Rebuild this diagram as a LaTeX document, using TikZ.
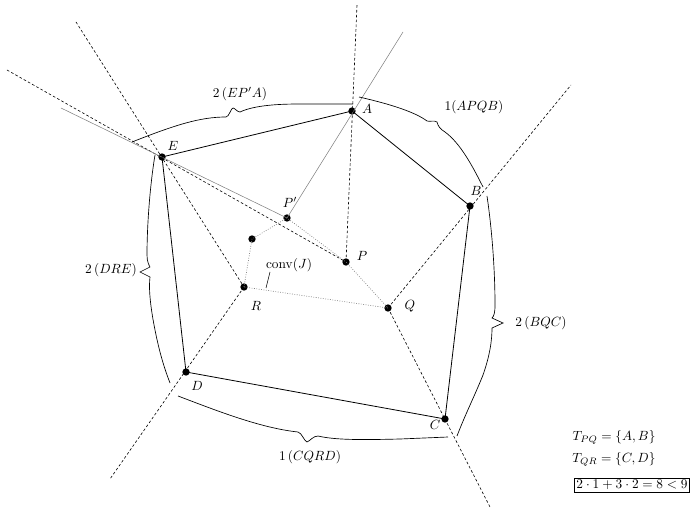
\documentclass[tikz,border=0pt]{standalone}
\begin{document}
\begin{tikzpicture}[x=0.75pt,y=-0.75pt,
  pt/.style={circle,fill=black,inner sep=0pt,minimum size=5.5pt},
  edge/.style={black,line width=0.6pt},
  brace/.style={black,line width=0.5pt},
  dl/.style={black,line width=0.45pt,dash pattern=on 2pt off 1.6pt},
  gl/.style={gray,line width=0.4pt},
  cl/.style={gray,line width=0.5pt,dash pattern=on 0.6pt off 1.2pt},
  lab/.style={inner sep=1pt}]
\useasboundingbox (0,0) rectangle (692,513);
% points
\node[pt] (A) at (352,111) {};
\node[pt] (B) at (470,206) {};
\node[pt] (C) at (445,419) {};
\node[pt] (D) at (186,372) {};
\node[pt] (E) at (162,157) {};
\node[pt] (Pp) at (287,218) {};
\node[pt] (P) at (346,262) {};
\node[pt] (Q) at (388,308) {};
\node[pt] (R) at (244,287) {};
\node[pt] (J) at (252,239) {};
% free ends
\coordinate (Atop) at (357,5);
\coordinate (Eup) at (76,22);
\coordinate (Eleft) at (7,70);
\coordinate (Dlow) at (110,479);
\coordinate (Btop) at (571,85);
\coordinate (Clow) at (490,507);
\coordinate (Gleft) at (61,108);
\coordinate (Gtop) at (403,32);
% dashed lines
\draw[dl] (P.center) -- (Atop);
\draw[dl] (Eleft) -- (P.center);
\draw[dl] (Eup) -- (R.center);
\draw[dl] (R.center) -- (Dlow);
\draw[dl] (Q.center) -- (Btop);
\draw[dl] (Q.center) -- (Clow);
% gray solid lines
\draw[gl] (Gleft) -- (Pp.center);
\draw[gl] (Pp.center) -- (Gtop);
% conv(J)
\draw[cl] (R.center) -- (J.center) -- (Pp.center) -- (P.center) -- (Q.center) -- cycle;
% pentagon
\draw[edge] (A.center) -- (B.center) -- (C.center) -- (D.center) -- (E.center) -- cycle;
% braces
\draw[brace] (132,142) .. controls (175,125) and (200,117) .. (226,117)
  .. controls (229,117) and (231,108) .. (233,108)
  .. controls (235,108) and (237,112) .. (240,112)
  .. controls (255,105) and (280,104) .. (300,104) -- (353,104);
\draw[brace] (359,97) .. controls (390,104) and (415,112) .. (427,121)
  .. controls (430,122) and (434,120) .. (437,122)
  .. controls (438,126) and (440,129) .. (445,132)
  .. controls (460,143) and (472,165) .. (483,187);
\draw[brace] (487,196) .. controls (492,230) and (495,270) .. (495,305)
  .. controls (495,313) and (494,316) .. (492,318) -- (503,323) -- (492,328)
  .. controls (492,340) and (490,355) .. (483,375)
  .. controls (475,395) and (465,415) .. (457,436);
\draw[brace] (178,396) .. controls (215,410) and (260,428) .. (298,432)
  .. controls (302,433) and (304,441) .. (307,442)
  .. controls (310,441) and (313,436) .. (318,436)
  .. controls (335,440) and (360,440) .. (400,439) -- (448,437);
\draw[brace] (155,155) .. controls (150,185) and (147,225) .. (147,255)
  .. controls (147,262) and (149,265) .. (150,267) -- (140,272) -- (150,277)
  .. controls (149,285) and (149,300) .. (155,330)
  .. controls (160,355) and (165,370) .. (170,383);
% point labels
\node[lab] (lA) at (367,109) {$A$};
\node[lab] (lB) at (476,191) {$B$};
\node[lab] (lC) at (435,425) {$C$};
\node[lab] (lD) at (197,386) {$D$};
\node[lab] (lE) at (173,146) {$E$};
\node[lab] (lPp) at (290,202) {$P'$};
\node[lab] (lP) at (362,256) {$P$};
\node[lab] (lQ) at (410,306) {$Q$};
\node[lab] (lR) at (256,306) {$R$};
\node[lab] (lconv) at (289,265) {$\mathrm{conv}(J)$};
\coordinate (cv1) at (270,272);
\coordinate (cv2) at (266,288);
\draw[line width=0.4pt] (cv1) -- (cv2);
% brace labels
\node[lab] (b1) at (240,94) {$2\,(EP'A)$};
\node[lab] (b2) at (474,107) {$1(APQB)$};
\node[lab] (b3) at (541,323) {$2\,(BQC)$};
\node[lab] (b4) at (310,457) {$1\,(CQRD)$};
\node[lab] (b5) at (111,270) {$2\,(DRE)$};
% equations
\node[lab] (t1) at (614,437) {$T_{PQ}=\{A,B\}$};
\node[lab] (t2) at (614,459) {$T_{QR}=\{C,D\}$};
\node[draw,line width=0.4pt,inner sep=1.5pt] (t3) at (632,485) {$2\cdot1+3\cdot2=8<9$};
\end{tikzpicture}
\end{document}
